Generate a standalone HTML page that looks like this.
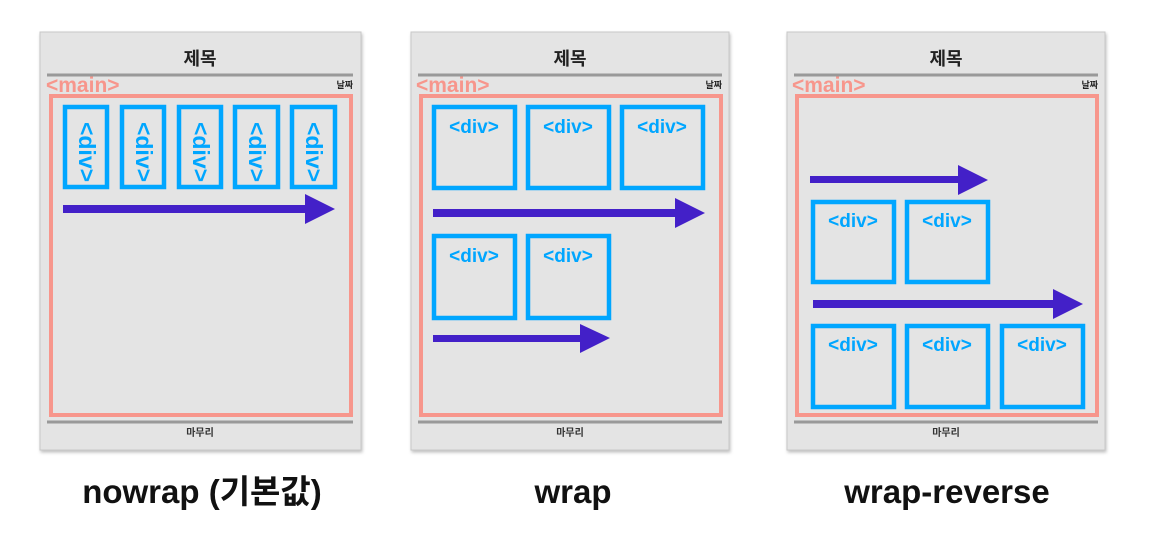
<!DOCTYPE html>
<html><head><meta charset="utf-8"><style>
html,body{margin:0;padding:0;background:#fff;}
svg{display:block;}
text{font-family:"Liberation Sans","Noto Sans CJK KR",sans-serif;font-weight:bold;}
</style></head><body>
<svg width="1150" height="539" viewBox="0 0 1150 539" xmlns="http://www.w3.org/2000/svg">
<defs>
<filter id="sh" x="-5%" y="-5%" width="110%" height="110%"><feDropShadow dx="1" dy="2" stdDeviation="1.5" flood-color="#000" flood-opacity="0.25"/></filter>
</defs>
<g>
<rect x="40" y="32" width="321" height="418" fill="#e4e4e4" stroke="#c8c8c8" filter="url(#sh)"/>
<rect x="411" y="32" width="318" height="418" fill="#e4e4e4" stroke="#c8c8c8" filter="url(#sh)"/>
<rect x="787" y="32" width="318" height="418" fill="#e4e4e4" stroke="#c8c8c8" filter="url(#sh)"/>
</g>
<g font-size="18" fill="#222" text-anchor="middle">
<text x="200" y="65">제목</text><text x="570" y="65">제목</text><text x="946" y="65">제목</text>
</g>
<g stroke="#999" stroke-width="3">
<line x1="47" y1="75" x2="353" y2="75"/><line x1="418" y1="75" x2="722" y2="75"/><line x1="794" y1="75" x2="1098" y2="75"/>
<line x1="47" y1="422" x2="353" y2="422"/><line x1="418" y1="422" x2="722" y2="422"/><line x1="794" y1="422" x2="1098" y2="422"/>
</g>
<g font-size="21" fill="#f7968c">
<text x="46" y="92">&lt;main&gt;</text><text x="416" y="92">&lt;main&gt;</text><text x="792" y="92">&lt;main&gt;</text>
</g>
<g font-size="9" fill="#222" text-anchor="end">
<text x="353" y="88">날짜</text><text x="722" y="88">날짜</text><text x="1098" y="88">날짜</text>
</g>
<g font-size="10" fill="#333" text-anchor="middle">
<text x="200" y="436">마무리</text><text x="570" y="436">마무리</text><text x="946" y="436">마무리</text>
</g>
<g fill="none" stroke="#f7968c" stroke-width="4">
<rect x="51" y="96" width="300" height="319"/>
<rect x="421" y="96" width="300" height="319"/>
<rect x="797" y="96" width="300" height="319"/>
</g>
<g fill="none" stroke="#00a6ff" stroke-width="4.5">
<rect x="65" y="107" width="42" height="80"/>
<rect x="122" y="107" width="42" height="80"/>
<rect x="179" y="107" width="42" height="80"/>
<rect x="235" y="107" width="43" height="80"/>
<rect x="292" y="107" width="43" height="80"/>

<rect x="434" y="107" width="81" height="81"/>
<rect x="528" y="107" width="81" height="81"/>
<rect x="622" y="107" width="81" height="81"/>
<rect x="434" y="236" width="81" height="82"/>
<rect x="528" y="236" width="81" height="82"/>

<rect x="813" y="202" width="81" height="80"/>
<rect x="907" y="202" width="81" height="80"/>
<rect x="813" y="326" width="81" height="81"/>
<rect x="907" y="326" width="81" height="81"/>
<rect x="1002" y="326" width="81" height="81"/>
</g>
<g font-size="19" fill="#00a6ff" text-anchor="middle">
<text x="474" y="133">&lt;div&gt;</text><text x="568" y="133">&lt;div&gt;</text><text x="662" y="133">&lt;div&gt;</text>
<text x="474" y="262">&lt;div&gt;</text><text x="568" y="262">&lt;div&gt;</text>
<text x="853" y="227">&lt;div&gt;</text><text x="947" y="227">&lt;div&gt;</text>
<text x="853" y="351">&lt;div&gt;</text><text x="947" y="351">&lt;div&gt;</text><text x="1042" y="351">&lt;div&gt;</text>
</g>
<g font-size="23" fill="#00a6ff" text-anchor="middle">
<text transform="translate(79,152) rotate(90)">&lt;div&gt;</text>
<text transform="translate(136,152) rotate(90)">&lt;div&gt;</text>
<text transform="translate(193,152) rotate(90)">&lt;div&gt;</text>
<text transform="translate(249,152) rotate(90)">&lt;div&gt;</text>
<text transform="translate(306,152) rotate(90)">&lt;div&gt;</text>
</g>
<g fill="#4320c8">
<rect x="63" y="205" width="244" height="8"/><polygon points="305,194 335,209 305,224"/>
<rect x="433" y="209" width="244" height="8"/><polygon points="675,198 705,213 675,228"/>
<rect x="433" y="335" width="149" height="7"/><polygon points="580,324 610,338 580,353"/>
<rect x="810" y="176" width="150" height="7"/><polygon points="958,165 988,180 958,195"/>
<rect x="813" y="300" width="242" height="8"/><polygon points="1053,289 1083,304 1053,319"/>
</g>
<g font-size="33" fill="#111" text-anchor="middle">
<text x="202" y="503">nowrap (기본값)</text>
<text x="573" y="503">wrap</text>
<text x="947" y="503">wrap-reverse</text>
</g>
</svg>
</body></html>
